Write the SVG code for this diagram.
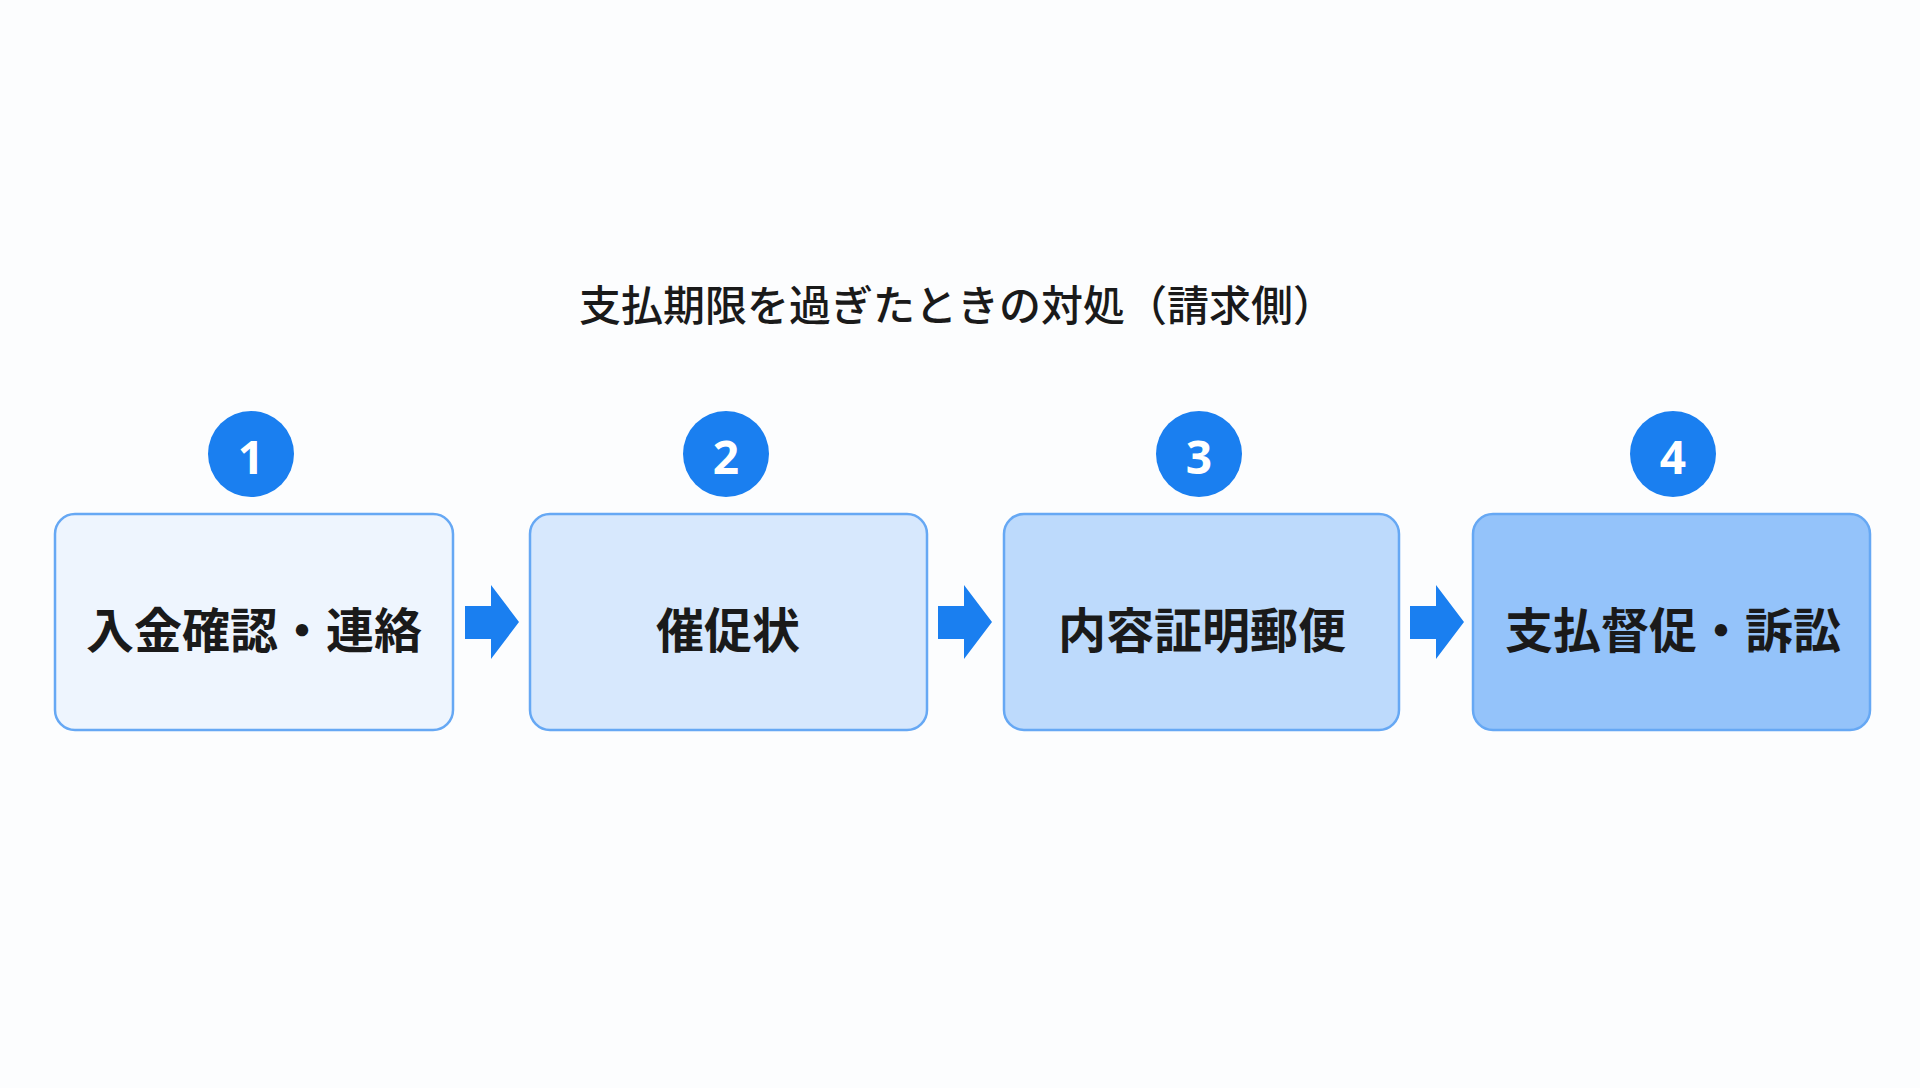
<svg xmlns="http://www.w3.org/2000/svg" width="1920" height="1088" viewBox="0 0 1920 1088">
<style>
.box{stroke:#66a8f4;stroke-width:2.5}
.lbl{font-family:"Noto Sans CJK JP","Noto Sans",sans-serif;font-weight:700;font-size:48px;fill:#1a1a1a;text-anchor:middle;dominant-baseline:central}
.num{font-family:"Noto Sans","Liberation Sans",sans-serif;font-weight:700;font-size:46px;fill:#fff;text-anchor:middle;dominant-baseline:central}
.badge{fill:#1a7ff0}
.arr{fill:#1a7ff0}
</style>
<rect width="1920" height="1088" fill="#fcfdfe"/>
<text x="957" y="302" font-family="'Noto Sans CJK JP','Noto Sans',sans-serif" font-size="42" font-weight="500" fill="#1a1a1a" text-anchor="middle" dominant-baseline="central">支払期限を過ぎたときの対処（請求側）</text>
<g id="node1"><rect class="box" x="55" y="514" width="398" height="216" rx="20" fill="#eef5fe"/><circle class="badge" cx="251" cy="454" r="43"/><text class="num" x="251" y="456">1</text><text class="lbl" x="254" y="627">入金確認・連絡</text></g>
<g id="node2"><rect class="box" x="530" y="514" width="397" height="216" rx="20" fill="#d7e8fd"/><circle class="badge" cx="726" cy="454" r="43"/><text class="num" x="726" y="456">2</text><text class="lbl" x="728" y="627">催促状</text></g>
<g id="node3"><rect class="box" x="1004" y="514" width="395" height="216" rx="20" fill="#bddafc"/><circle class="badge" cx="1199" cy="454" r="43"/><text class="num" x="1199" y="456">3</text><text class="lbl" x="1202" y="627">内容証明郵便</text></g>
<g id="node4"><rect class="box" x="1473" y="514" width="397" height="216" rx="20" fill="#94c3fa"/><circle class="badge" cx="1673" cy="454" r="43"/><text class="num" x="1673" y="456">4</text><text class="lbl" x="1673" y="627">支払督促・訴訟</text></g>
<g id="connectors">
<polygon class="arr" points="465,606 491,606 491,585 519,622 491,659 491,639 465,639"/>
<polygon class="arr" points="938,606 964,606 964,585 992,622 964,659 964,639 938,639"/>
<polygon class="arr" points="1410,606 1436,606 1436,585 1464,622 1436,659 1436,639 1410,639"/>
</g>
</svg>
